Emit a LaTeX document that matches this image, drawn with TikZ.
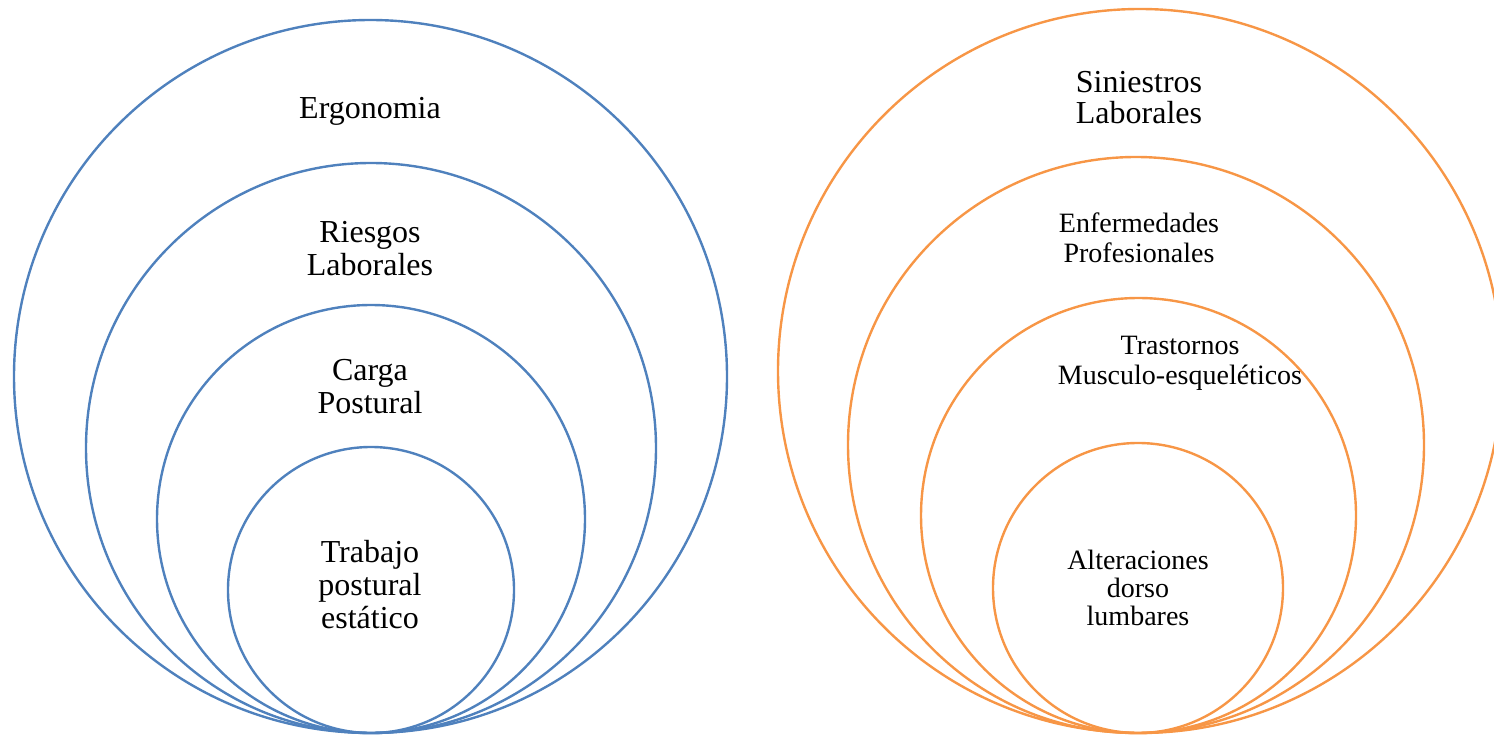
\documentclass[tikz,border=0pt]{standalone}
\usepackage{fontspec}
\setmainfont{Liberation Serif}
\definecolor{ringblue}{HTML}{4F81BD}
\definecolor{ringorange}{HTML}{F79646}
\begin{document}
\begin{tikzpicture}[x=1pt,y=-1pt,
  bluering/.style={draw=ringblue,line width=2.4pt},
  orangering/.style={draw=ringorange,line width=2.4pt},
  bigtxt/.style={align=center,inner sep=0pt,anchor=base,font=\fontsize{32}{33}\selectfont},
  smalltxt/.style={align=center,inner sep=0pt,anchor=base,font=\fontsize{28}{29}\selectfont}]
\useasboundingbox (0,0) rectangle (1494,735);

% left family of nested circles, all touching at the bottom
\draw[bluering] (370.5,376.5) circle (356.5);
\draw[bluering] (371,448) circle (285);
\draw[bluering] (371,519) circle (214);
\draw[bluering] (371,590) circle (143);

% right family of nested circles (the outer one runs past the right edge)
\begin{scope}
\clip (0,0) rectangle (1494,735);
\draw[orangering] (1140,371) circle (362);
\end{scope}
\draw[orangering] (1136,445) circle (288);
\draw[orangering] (1138.5,515.5) circle (217.5);
\draw[orangering] (1138,588) circle (145);

% labels, left (anchored at the baseline of the last line)
\node[bigtxt] (ergo) at (370,119) {Ergonomia};
\node[bigtxt] (riesgos) at (370,276) {Riesgos\\Laborales};
\node[bigtxt] (carga) at (370,413) {Carga\\Postural};
\node[bigtxt] (trabajo) at (370,628) {Trabajo\\postural\\estático};

% labels, right
\node[bigtxt,font=\fontsize{32}{31}\selectfont] (siniestros) at (1139,124) {Siniestros\\Laborales};
\node[smalltxt,font=\fontsize{28}{30}\selectfont] (enferm) at (1139,263) {Enfermedades\\Profesionales};
\node[smalltxt] (trast) at (1180,384) {Trastornos\\Musculo-esqueléticos};
\node[smalltxt,font=\fontsize{28}{28}\selectfont] (alter) at (1138,625) {Alteraciones\\dorso\\lumbares};
\end{tikzpicture}
\end{document}
